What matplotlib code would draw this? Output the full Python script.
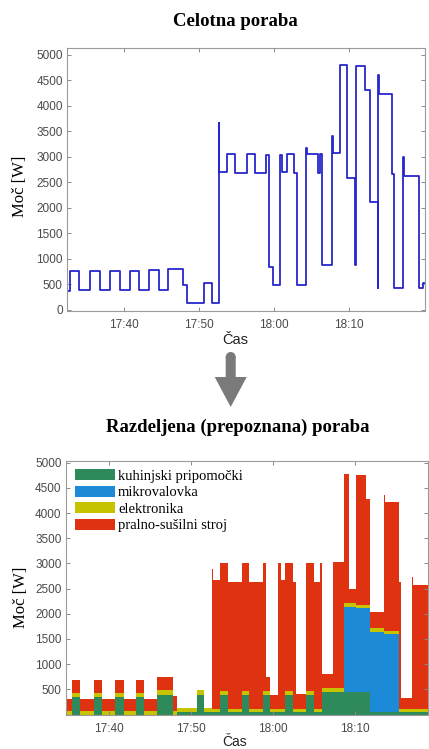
import matplotlib
matplotlib.use("Agg")
import matplotlib.pyplot as plt
from matplotlib.ticker import FuncFormatter
from matplotlib.patches import FancyArrow, Circle

# time axis: minutes after 17:30
# top chart: total measured power, step edges + value per step
top_t = [2.3, 2.8, 3.91, 5.38, 6.71, 8.13, 9.38, 10.71, 11.91, 13.33, 14.58, 15.82,
         17.82, 18.36, 20.67, 21.69, 22.58, 22.68, 23.69, 24.8, 26.36, 27.42, 28.95,
         29.38, 29.91, 30.75, 31.02, 31.69, 32.71, 33.02, 34.22, 34.32, 35.82, 36.13,
         36.44, 37.69, 37.79, 38.8, 39.69, 40.8, 40.9, 42.13, 42.8, 43.82, 43.92,
         44.02, 45.69, 46.0, 47.24, 47.34, 49.33, 49.82, 50.3]
top_w = [380, 763, 385, 763, 385, 763, 385, 763, 395, 780, 400, 805, 490, 130, 530,
         140, 3664, 2705, 3060, 2673, 3045, 2673, 3040, 847, 480, 3030, 2705, 3050,
         2690, 485, 3181, 3060, 2690, 3050, 880, 3402, 3080, 4800, 2580, 890, 4770,
         4300, 2106, 430, 4595, 4237, 2653, 430, 2986, 2620, 430, 528]

# bottom chart: disaggregated power per appliance
bot_t = [4.5, 5.5, 6.5, 8.13, 9.15, 10.77, 11.78, 13.32, 14.33, 15.83, 17.77, 18.26,
         20.69, 21.58, 22.59, 22.7, 23.5, 24.46, 26.16, 27.09, 28.79, 29.19, 29.68,
         30.6, 30.97, 31.42, 32.43, 32.76, 33.97, 34.95, 35.75, 36.0, 37.3, 38.6,
         39.3, 40.05, 40.11, 41.26, 41.75, 43.45, 43.51, 43.6, 45.3, 45.6, 46.9,
         47.0, 49.5]
kuhinja = [0, 355, 0, 355, 0, 355, 0, 355, 0, 390, 0, 50, 380, 50, 50, 50, 380, 50,
           380, 50, 380, 380, 50, 50, 50, 380, 50, 50, 380, 50, 50, 440, 440, 440,
           440, 440, 440, 440, 50, 50, 50, 50, 50, 50, 50, 50]
mikrovalovka = [0, 0, 0, 0, 0, 0, 0, 0, 0, 0, 0, 0, 0, 0, 0, 0, 0, 0, 0, 0, 0, 0, 0,
                0, 0, 0, 0, 0, 0, 0, 0, 0, 0, 1700, 1700, 0, 1665, 1665, 1590, 0,
                1540, 1540, 0, 0, 0, 0]
elektronika = [60, 80, 60, 80, 60, 80, 60, 80, 60, 100, 60, 70, 100, 70, 60, 60, 80,
               60, 80, 60, 80, 80, 60, 60, 60, 80, 60, 60, 80, 60, 60, 80, 80, 65, 65,
               60, 65, 65, 70, 60, 70, 70, 60, 60, 60, 60]
pralni = [245, 250, 245, 250, 245, 255, 245, 255, 250, 260, 300, 0, 0, 0, 2780, 2555,
          2556, 2530, 2540, 2530, 2556, 290, 280, 2890, 2555, 2556, 2520, 290, 2556,
          2520, 2906, 290, 2500, 2575, 295, 0, 2580, 2100, 320, 0, 2700, 2560, 2520,
          220, 2620, 2470]

labels = ['kuhinjski pripomočki', 'mikrovalovka', 'elektronika', 'pralno-sušilni stroj']
colors = ['#2e8a5a', '#1c8ad6', '#c6c400', '#de3210']

SERIF = 'Liberation Serif'
SANS = 'Liberation Sans'
TICK_C = '#4a4a4a'


def hhmm(m, pos=None):
    tot = 30 + m
    return f"{17 + int(tot // 60)}:{int(round(tot % 60)):02d}"


def style_axes(ax):
    for s in ax.spines.values():
        s.set_color('#9a9a9a')
        s.set_linewidth(0.8)
    ax.tick_params(direction='in', length=3, width=0.7, color='#8a8a8a',
                   top=True, right=True, labelsize=8.5, labelcolor=TICK_C)
    ax.tick_params(axis='x', pad=6)
    ax.tick_params(axis='y', pad=3)
    for lab in ax.get_xticklabels() + ax.get_yticklabels():
        lab.set_fontfamily(SANS)
    ax.xaxis.set_major_formatter(FuncFormatter(hhmm))


def pad_last(v):
    return list(v) + [v[-1]]


fig = plt.figure(figsize=(4.29, 7.49), dpi=100)

# ---- top: total consumption
ax1 = fig.add_axes([67 / 429, 1 - 311 / 749, 358 / 429, 263 / 749])
ax1.step(top_t, pad_last(top_w), where='post', color='#2626cc', lw=1.3)
ax1.set_xlim(2.36, 50.13)
ax1.set_ylim(-20, 5130)
ax1.set_xticks([10, 20, 30, 40])
ax1.set_yticks(range(0, 5001, 500))
style_axes(ax1)
ax1.set_ylabel('Moč [W]', family=SERIF, fontsize=12)
ax1.yaxis.set_label_coords(-0.108, 0.473)
ax1.set_xlabel('Čas', family=SANS, fontsize=10.5, color='#222222')
ax1.xaxis.set_label_coords(0.469, -0.084)
fig.text(235 / 429, 1 - 21 / 749, 'Celotna poraba', family=SERIF,
         fontweight='bold', fontsize=13.5, ha='center', va='center')

# ---- bottom: disaggregated consumption
ax2 = fig.add_axes([65.7 / 429, 1 - 714.5 / 749, 361.8 / 429, 253.5 / 749])
stacks = [pad_last(kuhinja), pad_last(mikrovalovka), pad_last(elektronika), pad_last(pralni)]
ax2.stackplot(bot_t, *stacks, colors=colors, labels=labels, step='post', linewidth=0)
ax2.set_xlim(4.74, 48.8)
ax2.set_ylim(0, 5034)
ax2.set_xticks([10, 20, 30, 40])
ax2.set_yticks(range(500, 5001, 500))
style_axes(ax2)
ax2.set_ylabel('Moč [W]', family=SERIF, fontsize=12)
ax2.yaxis.set_label_coords(-0.102, 0.463)
ax2.set_xlabel('Čas', family=SANS, fontsize=10, color='#222222')
ax2.xaxis.set_label_coords(0.468, -0.079)
ax2.legend(loc='upper left', bbox_to_anchor=(0.026, 0.968), frameon=False,
           prop={'family': SERIF, 'size': 10.5}, handlelength=2.74,
           handleheight=0.79, labelspacing=0.2, handletextpad=0.2,
           borderpad=0, borderaxespad=0)
fig.text(238 / 429, 1 - 427 / 749, 'Razdeljena (prepoznana) poraba', family=SERIF,
         fontweight='bold', fontsize=13.5, ha='center', va='center')

# ---- arrow between the two charts (pixel coords overlay)
ov = fig.add_axes([0, 0, 1, 1], facecolor='none')
ov.set_xlim(0, 429)
ov.set_ylim(749, 0)
ov.axis('off')
ov.add_patch(FancyArrow(230.7, 357, 0, 50, width=10, head_width=32, head_length=30,
                        length_includes_head=True, color='#7a7a7a', lw=0))
ov.add_patch(Circle((230.7, 357), 5, color='#7a7a7a', lw=0))

fig.savefig('out.png', dpi=100)
